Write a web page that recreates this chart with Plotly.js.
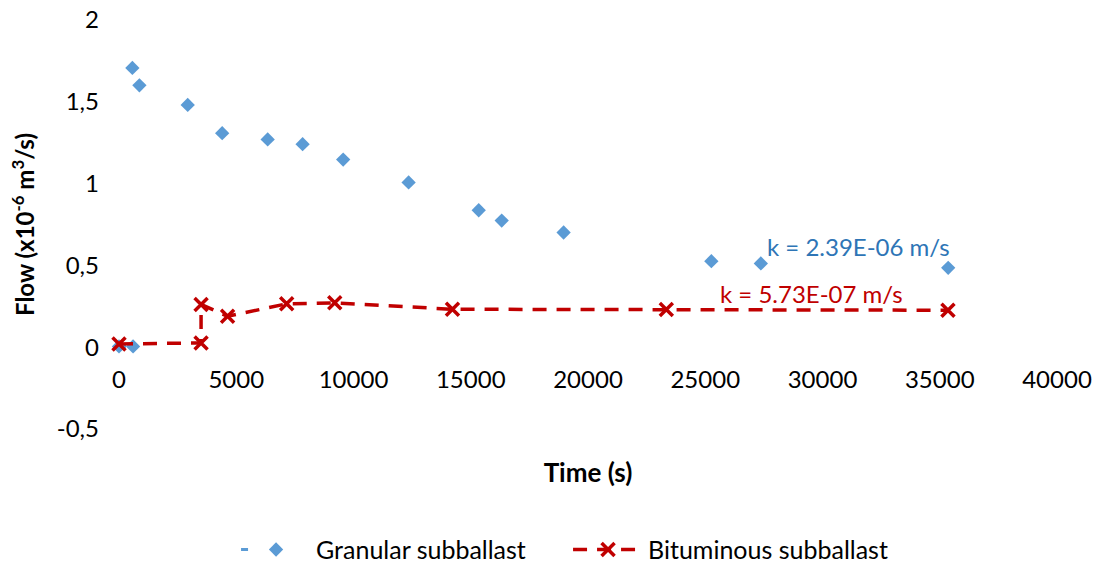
<!DOCTYPE html>
<html>
<head>
<meta charset="utf-8">
<script src="https://cdn.plot.ly/plotly-3.0.1.min.js"></script>
<style>html,body{margin:0;padding:0;background:#fff;}#chart{width:1098px;height:565px;}</style>
</head>
<body>
<div id="chart"></div>
<script>
// Granular subballast (time in s, flow in x10^-6 m3/s)
var granularTime = [0, 600, 570, 870, 2930, 4400, 6340, 7830, 9560, 12350, 15340, 16320, 18960, 25260, 27370, 35360];
var granularFlow = [0.005, 0.005, 1.707, 1.601, 1.481, 1.308, 1.270, 1.241, 1.147, 1.007, 0.837, 0.774, 0.701, 0.526, 0.512, 0.485];

// Bituminous subballast
var bitumTime = [0, 3500, 3500, 4630, 7150, 9200, 14220, 23340, 35350];
var bitumFlow = [0.020, 0.026, 0.261, 0.189, 0.265, 0.271, 0.232, 0.230, 0.226];

var xTickVals = [0, 5000, 10000, 15000, 20000, 25000, 30000, 35000, 40000];
var xTickText = ["0", "5000", "10000", "15000", "20000", "25000", "30000", "35000", "40000"];
var yTickVals = [-0.5, 0, 0.5, 1, 1.5, 2];
var yTickText = ["-0,5", "0", "0,5", "1", "1,5", "2"];

var FONT = "Lato, 'Open Sans', sans-serif";

var traces = [
  {
    x: granularTime, y: granularFlow,
    name: "Granular subballast",
    type: "scatter", mode: "lines+markers",
    line: {color: "#5B9BD5", width: 3, dash: "7px,3000px"},
    marker: {symbol: "diamond", size: 11, color: "#5B9BD5"},
    legendwidth: 247,
    cliponaxis: false
  },
  {
    x: bitumTime, y: bitumFlow,
    name: "Bituminous subballast",
    type: "scatter", mode: "lines+markers",
    line: {color: "#C00000", width: 3.5, dash: "14px,10px"},
    marker: {symbol: "x-thin-open", size: 13, color: "#C00000", line: {width: 3.5, color: "#C00000"}},
    cliponaxis: false
  }
];

var layout = {
  width: 1098, height: 565,
  margin: {l: 119, r: 41, t: 20, b: 136},
  paper_bgcolor: "#ffffff",
  plot_bgcolor: "#ffffff",
  font: {family: FONT, color: "#000000", size: 24},
  showlegend: true,
  legend: {
    orientation: "h", x: 0.475, xanchor: "center",
    yref: "container", y: 0.027, yanchor: "middle",
    font: {family: FONT, size: 25, color: "#000000"},
    itemwidth: 70
  },
  xaxis: {
    range: [0, 40000],
    anchor: "free", position: 0.2,
    tickvals: xTickVals, ticktext: xTickText,
    showgrid: false, zeroline: false, showline: false, ticks: "",
    ticklabelstandoff: 16,
    tickfont: {family: FONT, size: 24, color: "#000000"},
    title: {text: "<b>Time (s)</b>", font: {family: FONT, size: 26, color: "#000000"}, standoff: 71}
  },
  yaxis: {
    range: [-0.5, 2],
    tickvals: yTickVals, ticktext: yTickText,
    showgrid: false, zeroline: false, showline: false, ticks: "",
    ticklabelstandoff: 19,
    tickfont: {family: FONT, size: 24, color: "#000000"},
    title: {text: "<b>Flow (x10<sup>-6</sup> m<sup>3</sup>/s)</b>", font: {family: FONT, size: 24, color: "#000000"}, standoff: 15}
  },
  annotations: [
    {x: 31534, y: 0.617, xref: "x", yref: "y", text: "k = 2.39E-06 m/s", showarrow: false,
     font: {family: FONT, size: 24, color: "#2E75B6"}},
    {x: 29531, y: 0.326, xref: "x", yref: "y", text: "k = 5.73E-07 m/s", showarrow: false,
     font: {family: FONT, size: 24, color: "#C00000"}}
  ]
};

Plotly.newPlot("chart", traces, layout, {displayModeBar: false, staticPlot: true});
</script>
</body>
</html>
